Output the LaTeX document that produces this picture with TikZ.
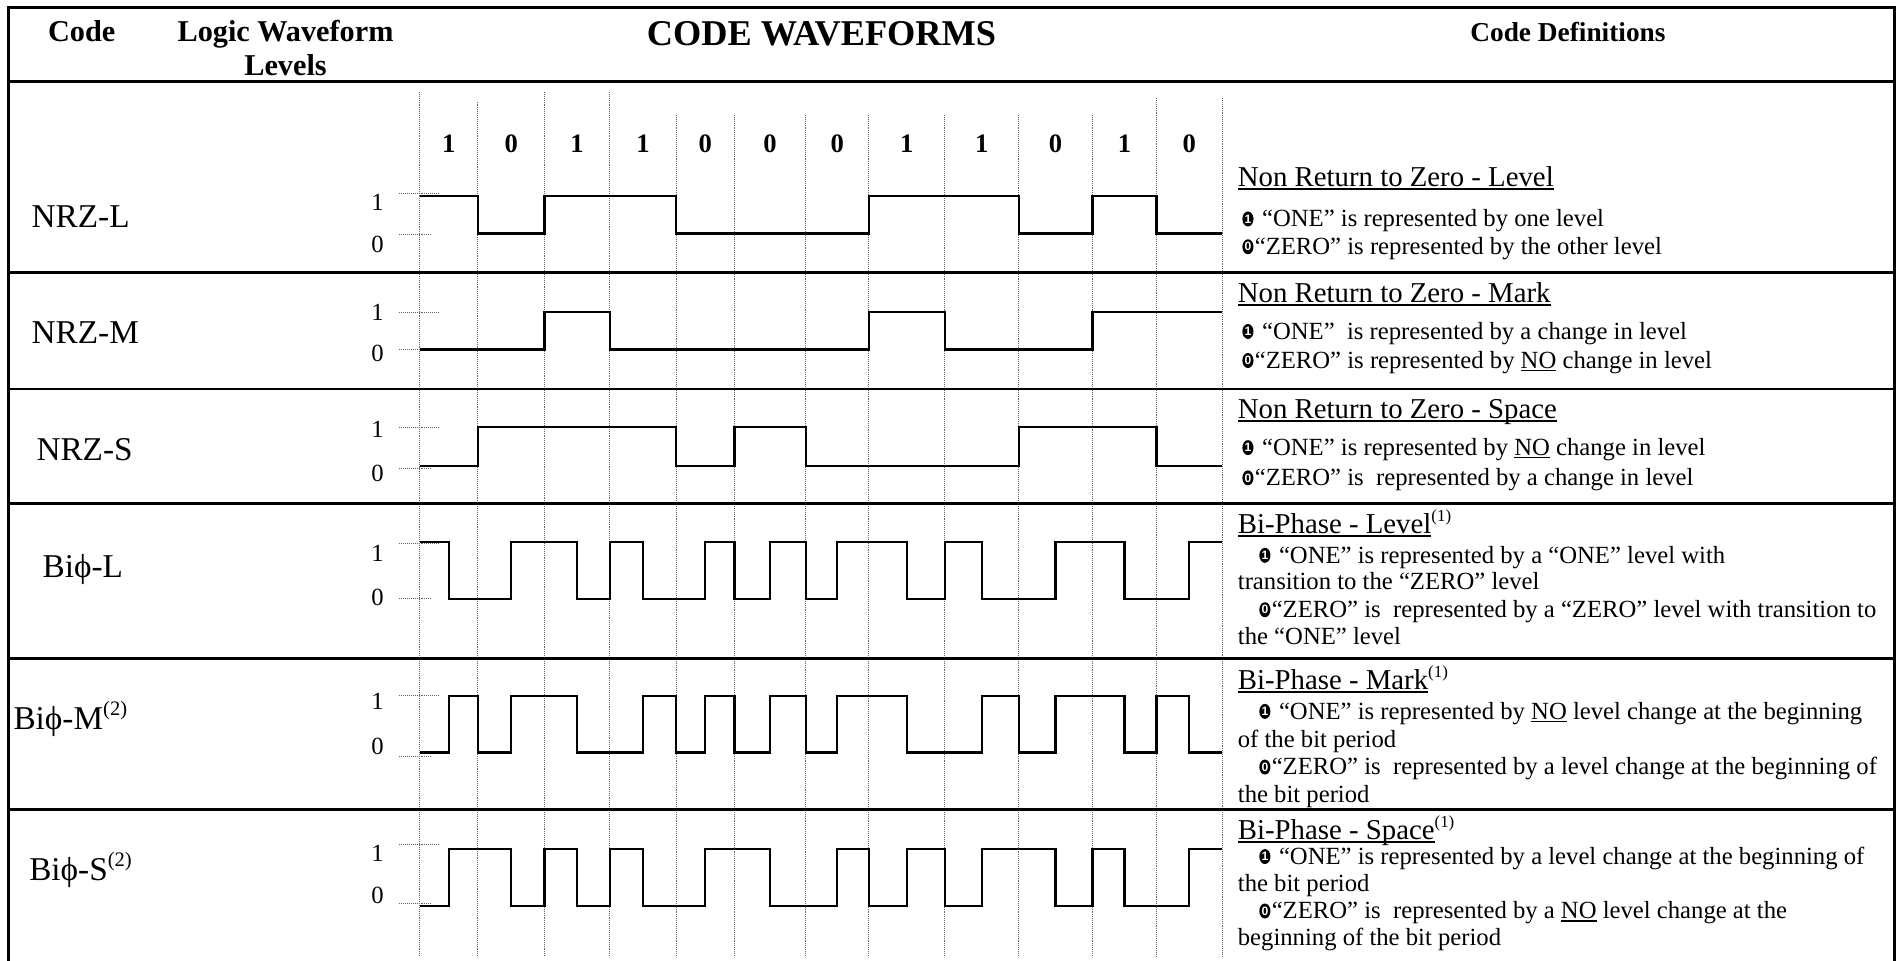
\documentclass[tikz,border=0pt]{standalone}
\usepackage{fontspec}
\setmainfont{Liberation Serif}
\newfontfamily\bulfont{Liberation Sans}
\newsavebox{\ulbox}
\newcommand{\ul}[1]{\sbox{\ulbox}{#1}\rlap{\rule[-0.12em]{\wd\ulbox}{0.055em}}\usebox{\ulbox}}
\newcommand{\supx}[1]{\raisebox{0.42em}{\fontsize{14}{14}\selectfont #1}}
\newcommand{\supc}[1]{\raisebox{0.42em}{\fontsize{17}{17}\selectfont #1}}
\newcommand{\bul}[4]{\fill (#2,#3) ellipse [x radius=4.6pt, y radius=6.2pt]; \node[bulnum] (#1) at (#2,#3) {#4};}
\begin{document}
\begin{tikzpicture}[x=1pt,y=-1pt,
  frame/.style={line width=2.4pt},
  wave/.style={line width=1.9pt, line join=miter},
  dotline/.style={line width=0.7pt, black!60, dash pattern=on 0.8pt off 0.8pt},
  hdr/.style={font=\fontsize{25}{28}\selectfont\bfseries, inner sep=0pt, anchor=base},
  hdrdef/.style={font=\fontsize{22.6}{26}\selectfont\bfseries, inner sep=0pt, anchor=base},
  bighdr/.style={font=\fontsize{30}{32}\selectfont\bfseries, inner sep=0pt, anchor=base},
  bitlab/.style={font=\fontsize{22}{24}\selectfont\bfseries, inner sep=0pt, anchor=base},
  codelab/.style={font=\fontsize{27.5}{30}\selectfont, inner sep=0pt, anchor=base west},
  lvl/.style={font=\fontsize{20.4}{22}\selectfont, inner sep=0pt},
  defhead/.style={font=\fontsize{23.8}{26}\selectfont, inner sep=0pt, anchor=base west},
  deftext/.style={font=\fontsize{20.4}{24}\selectfont, inner sep=0pt, anchor=base west},
  bulnum/.style={font=\bulfont\bfseries\fontsize{10}{10}\selectfont, text=white, inner sep=0pt}
]
\fill[white] (0,0) rectangle (1568,794);
\useasboundingbox (0,0) rectangle (1568,794);

% ---- grid of bit boundaries (dotted)
\foreach \xx/\yy in {347/76,395/84,450/76,504/76,559/95,607/95,666/95,718/95,781/95,842/95,903/95,956/81,1010/81}
  \draw[dotline] (\xx,\yy) -- (\xx,791);

% ---- frame and row separators
\draw[frame] (7,794) -- (7,6) -- (1566,6) -- (1566,794);
\foreach \yy in {67.5,225.6,321.5,416,544,669}
  \draw[frame] (7,\yy) -- (1566,\yy);

% ---- header
\node[hdr] (hcode) at (67.5,34.3) {Code};
\node[hdr] (hlogic) at (236,34.5) {Logic Waveform};
\node[hdr] (hlevels) at (236,62.6) {Levels};
\node[bighdr] (hwave) at (679,37.8) {CODE WAVEFORMS};
\node[hdrdef] (hdefs) at (1296,34) {Code Definitions};

% ---- bit labels
\foreach \xx/\bb [count=\i] in {371/1,422.5/0,477/1,531.5/1,583/0,636.5/0,692/0,749.5/1,811.5/1,872.5/0,929.5/1,983/0}
  \node[bitlab] (bit\i) at (\xx,126.4) {\bb};

% ---- code labels
\node[codelab] (cNRZL) at (26,188) {NRZ-L};
\node[codelab] (cNRZM) at (26,284) {NRZ-M};
\node[codelab] (cNRZS) at (30,381) {NRZ-S};
\node[codelab] (cBL) at (35,477) {Biϕ-L};
\node[codelab] (cBM) at (11,603) {Biϕ-M\supc{(2)}};
\node[codelab] (cBS) at (24,728) {Biϕ-S\supc{(2)}};

% ---- level labels and level ticks
\foreach \nm/\ya/\yb/\ta/\tb in {L/167/202/160/194, M/258/292/258/289, S/355/391/353/387.5, BL/457/494/449/495, BM/580/617/575/625, BS/705/740/698/747}{
  \node[lvl] (one\nm) at (312,\ya) {1};
  \node[lvl] (zero\nm) at (312,\yb) {0};
  \draw[dotline] (330,\ta) -- (363,\ta);
  \draw[dotline] (330,\tb) -- (356,\tb);
}

% ---- waveforms
% NRZ-L
\draw[wave] (347,162) -- (395,162) -- (395,193) -- (450,193) -- (450,162) -- (559,162) -- (559,193) -- (718,193) -- (718,162) -- (842,162) -- (842,193) -- (903,193) -- (903,162) -- (956,162) -- (956,193) -- (1010,193);
% NRZ-M
\draw[wave] (347,289) -- (450,289) -- (450,258) -- (504,258) -- (504,289) -- (718,289) -- (718,258) -- (781,258) -- (781,289) -- (903,289) -- (903,258) -- (1010,258);
% NRZ-S
\draw[wave] (347,385) -- (395,385) -- (395,353) -- (559,353) -- (559,385) -- (607,385) -- (607,353) -- (666,353) -- (666,385) -- (842,385) -- (842,353) -- (956,353) -- (956,385) -- (1010,385);
% Bi-phase L
\draw[wave] (347,448) -- (371,448) -- (371,495) -- (422.5,495) -- (422.5,448) -- (477,448) -- (477,495) -- (504,495) -- (504,448) -- (531.5,448) -- (531.5,495) -- (583,495) -- (583,448) -- (607,448) -- (607,495) -- (636.5,495) -- (636.5,448) -- (666,448) -- (666,495) -- (692,495) -- (692,448) -- (749.5,448) -- (749.5,495) -- (781,495) -- (781,448) -- (811.5,448) -- (811.5,495) -- (872.5,495) -- (872.5,448) -- (929.5,448) -- (929.5,495) -- (983,495) -- (983,448) -- (1010,448);
% Bi-phase M
\draw[wave] (347,622) -- (371,622) -- (371,575) -- (395,575) -- (395,622) -- (422.5,622) -- (422.5,575) -- (477,575) -- (477,622) -- (531.5,622) -- (531.5,575) -- (559,575) -- (559,622) -- (583,622) -- (583,575) -- (607,575) -- (607,622) -- (636.5,622) -- (636.5,575) -- (666,575) -- (666,622) -- (692,622) -- (692,575) -- (749.5,575) -- (749.5,622) -- (811.5,622) -- (811.5,575) -- (842,575) -- (842,622) -- (872.5,622) -- (872.5,575) -- (929.5,575) -- (929.5,622) -- (956,622) -- (956,575) -- (983,575) -- (983,622) -- (1010,622);
% Bi-phase S
\draw[wave] (347,749) -- (371,749) -- (371,702) -- (422.5,702) -- (422.5,749) -- (450,749) -- (450,702) -- (477,702) -- (477,749) -- (504,749) -- (504,702) -- (531.5,702) -- (531.5,749) -- (583,749) -- (583,702) -- (636.5,702) -- (636.5,749) -- (692,749) -- (692,702) -- (718,702) -- (718,749) -- (749.5,749) -- (749.5,702) -- (781,702) -- (781,749) -- (811.5,749) -- (811.5,702) -- (872.5,702) -- (872.5,749) -- (903,749) -- (903,702) -- (929.5,702) -- (929.5,749) -- (983,749) -- (983,702) -- (1010,702);

% ---- definitions: NRZ-L
\node[defhead] (dLh) at (1023,153.8) {\ul{Non Return to Zero - Level}};
\bul{bL1}{1031.5}{181}{1}
\node[deftext] (dL1) at (1043,187.5) {“ONE” is represented by one level};
\bul{bL0}{1031.5}{204}{0}
\node[deftext] (dL0) at (1037,210.5) {“ZERO” is represented by the other level};

% NRZ-M
\node[defhead] (dMh) at (1023,249.8) {\ul{Non Return to Zero - Mark}};
\bul{bM1}{1031.5}{274}{1}
\node[deftext] (dM1) at (1043,280.5) {“ONE”~ is represented by a change in level};
\bul{bM0}{1031.5}{298}{0}
\node[deftext] (dM0) at (1037,304.5) {“ZERO” is represented by \ul{NO} change in level};

% NRZ-S
\node[defhead] (dSh) at (1023,345.8) {\ul{Non Return to Zero - Space}};
\bul{bS1}{1031.5}{370}{1}
\node[deftext] (dS1) at (1043,376.5) {“ONE” is represented by \ul{NO} change in level};
\bul{bS0}{1031.5}{395}{0}
\node[deftext] (dS0) at (1037,401.5) {“ZERO” is~ represented by a change in level};

% Bi-phase L
\node[defhead] (dBLh) at (1023,440.8) {\ul{Bi-Phase - Level}\supx{(1)}};
\bul{bBL1}{1045.5}{459}{1}
\node[deftext] (dBL1) at (1057,465.5) {“ONE” is represented by a “ONE” level with};
\node[deftext] (dBL1b) at (1023,487.5) {transition to the “ZERO” level};
\bul{bBL0}{1045.5}{504}{0}
\node[deftext] (dBL0) at (1051,510.5) {“ZERO” is~ represented by a “ZERO” level with transition to};
\node[deftext] (dBL0b) at (1023,532.5) {the “ONE” level};

% Bi-phase M
\node[defhead] (dBMh) at (1023,569.8) {\ul{Bi-Phase - Mark}\supx{(1)}};
\bul{bBM1}{1045.5}{588}{1}
\node[deftext] (dBM1) at (1057,594.5) {“ONE” is represented by \ul{NO} level change at the beginning};
\node[deftext] (dBM1b) at (1023,617.5) {of the bit period};
\bul{bBM0}{1045.5}{634}{0}
\node[deftext] (dBM0) at (1051,640.5) {“ZERO” is~ represented by a level change at the beginning of};
\node[deftext] (dBM0b) at (1023,663.5) {the bit period};

% Bi-phase S
\node[defhead] (dBSh) at (1023,693.8) {\ul{Bi-Phase - Space}\supx{(1)}};
\bul{bBS1}{1045.5}{708}{1}
\node[deftext] (dBS1) at (1057,714.5) {“ONE” is represented by a level change at the beginning of};
\node[deftext] (dBS1b) at (1023,736.5) {the bit period};
\bul{bBS0}{1045.5}{753}{0}
\node[deftext] (dBS0) at (1051,759.5) {“ZERO” is~ represented by a \ul{NO} level change at the};
\node[deftext] (dBS0b) at (1023,781.5) {beginning of the bit period};
\end{tikzpicture}
\end{document}
